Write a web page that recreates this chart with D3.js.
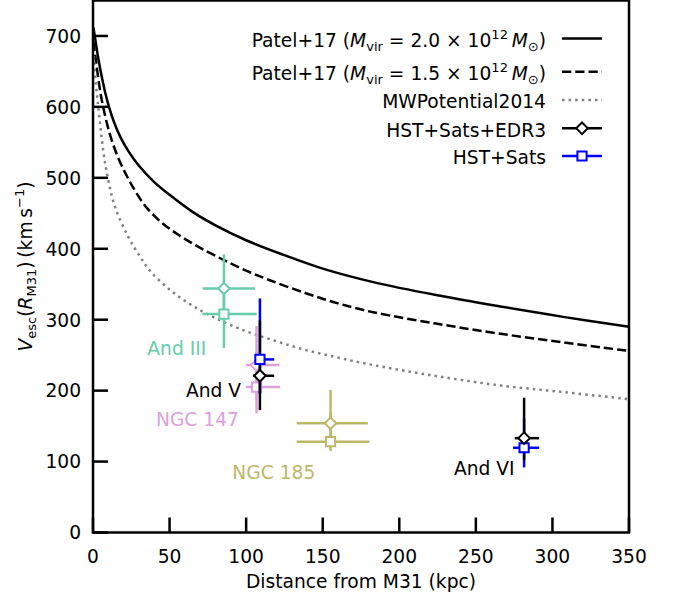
<!DOCTYPE html>
<html>
<head>
<meta charset="utf-8">
<script src="https://cdn.jsdelivr.net/npm/d3@7"></script>
<style>
  html, body { margin: 0; padding: 0; background: #fff; }
  svg { display: block; font-family: "DejaVu Sans", sans-serif; }
</style>
</head>
<body>
<svg id="chart" width="677" height="594"></svg>
<script>
// Escape-velocity profiles, [distance kpc, v_esc km/s]
const patelHigh = [[0.3,712],[1,702],[2,688],[3.5,668],[5.5,645],[8,620],[10.6,599],[14,577],[18,557],[23,538],[30,517],[40,494],[50,476],[65,452],[80,433],[100,412],[125,391],[150,372],[183,353],[226,334],[265,319],[307,304],[350,290]];
const patelLow = [[0.3,692],[1,680],[2,664],[4,632],[6.7,599],[11.1,561],[16.5,528],[22,503],[27.4,482],[35,458],[45.9,435],[57,418],[67.7,404],[80,390],[96,373],[115,356],[139.5,337],[160,323],[183,310.5],[224,294.5],[263.5,281],[307,268],[350,256]];
const mwPot = [[0.5,672],[2,630],[3.5,599],[6.7,538],[9.6,501],[14.4,459],[23,417],[30.7,389],[37.2,369],[50.3,342],[63.3,322],[76.4,306],[96,287],[117.7,271],[139.5,257],[161.2,246],[183,236],[220,222],[263.5,208],[307,198],[350,188]];

// Satellites: distance with range, v_esc with range
const edr3 = [
  {name: "And III", d: 85.5,  dLo: 71.6,  dHi: 105.7, v: 344,   vLo: 298,   vHi: 392},
  {name: "NGC 147", d: 106.8, dLo: 100.0, dHi: 121.8, v: 236,   vLo: 186,   vHi: 291},
  {name: "And V",   d: 109,   dLo: 104.6, dHi: 118.3, v: 221,   vLo: 172.5, vHi: 299},
  {name: "NGC 185", d: 155.1, dLo: 133,   dHi: 179.5, v: 154,   vLo: 125,   vHi: 201},
  {name: "And VI",  d: 281.5, dLo: 275.4, dHi: 291.3, v: 133,   vLo: 102,   vHi: 190}
];
const sats = [
  {name: "And III", d: 85.5,  dLo: 71.4,  dHi: 106.9, v: 308,   vLo: 260,   vHi: 352},
  {name: "NGC 147", d: 106.8, dLo: 100.0, dHi: 122.2, v: 205,   vLo: 168,   vHi: 255},
  {name: "And V",   d: 109,   dLo: 105.7, dHi: 118.3, v: 244,   vLo: 195,   vHi: 330},
  {name: "NGC 185", d: 155.1, dLo: 133,   dHi: 180.5, v: 128,   vLo: 115,   vHi: 170},
  {name: "And VI",  d: 281.5, dLo: 274.3, dHi: 291.3, v: 119.5, vLo: 91.8,  vHi: 160}
];

// Galaxy name labels, anchored at data coordinates (left, baseline)
const galaxyLabels = [
  {name: "And III", d: 35.5,  v: 250},
  {name: "And V",   d: 60.7,  v: 191.3},
  {name: "NGC 147", d: 41.1,  v: 150.4},
  {name: "NGC 185", d: 91,    v: 75.4},
  {name: "And VI",  d: 235.7, v: 81}
];

const xTicks = [0, 50, 100, 150, 200, 250, 300, 350];
const yTicks = [0, 100, 200, 300, 400, 500, 600, 700];

// Colours for the coloured galaxies; And V / And VI use the legend colours
const galaxyColor = {"And III": "#66cdaa", "NGC 147": "#dda0dd", "NGC 185": "#bdb76b"};
const EDR3_COLOR = "#000000", SATS_COLOR = "#0000ff";

const FONT = 18.67;
const svg = d3.select("#chart");
const margin = {left: 93, top: 0.5, right: 48, bottom: 61.5};
const W = 677 - margin.left - margin.right;
const H = 594 - margin.top - margin.bottom;

const x = d3.scaleLinear().domain([0, 350]).range([0, W]);
const y = d3.scaleLinear().domain([0, 750]).range([H, 0]);

const g = svg.append("g").attr("transform", `translate(${margin.left},${margin.top})`);

g.append("clipPath").attr("id", "plotclip")
  .append("rect").attr("x", 0).attr("y", 0).attr("width", W).attr("height", H);

// Curves
const line = d3.line().x(d => x(d[0])).y(d => y(d[1])).curve(d3.curveCatmullRom.alpha(0.5));
const curves = g.append("g").attr("clip-path", "url(#plotclip)");
curves.append("path").attr("d", line(patelHigh)).attr("fill", "none")
  .attr("stroke", "#000").attr("stroke-width", 2.5);
curves.append("path").attr("d", line(patelLow)).attr("fill", "none")
  .attr("stroke", "#000").attr("stroke-width", 2.5).attr("stroke-dasharray", "9.25,4");
curves.append("path").attr("d", line(mwPot)).attr("fill", "none")
  .attr("stroke", "#808080").attr("stroke-width", 2.5).attr("stroke-dasharray", "2.5,4.1");

// Error bars and markers
const ERR_W = 2.5;
function drawBars(sel, rows, colorOf) {
  rows.forEach(r => {
    const c = colorOf(r);
    sel.append("line").attr("x1", x(r.dLo)).attr("x2", x(r.dHi))
      .attr("y1", y(r.v)).attr("y2", y(r.v)).attr("stroke", c).attr("stroke-width", ERR_W);
    sel.append("line").attr("x1", x(r.d)).attr("x2", x(r.d))
      .attr("y1", y(r.vLo)).attr("y2", y(r.vHi)).attr("stroke", c).attr("stroke-width", ERR_W);
  });
}
const diamond = (cx, cy, s) => `M${cx},${cy - s}L${cx + s},${cy}L${cx},${cy + s}L${cx - s},${cy}Z`;
const square = (cx, cy, s) => `M${cx - s},${cy - s}H${cx + s}V${cy + s}H${cx - s}Z`;
function drawMarkers(sel, rows, colorOf, shape) {
  rows.forEach(r => {
    const cx = x(r.d), cy = y(r.v);
    sel.append("path")
      .attr("d", shape === "D" ? diamond(cx, cy, 5.8) : square(cx, cy, 4.6))
      .attr("fill", "#fff").attr("stroke", colorOf(r)).attr("stroke-width", 2);
  });
}

const pts = g.append("g");
const colored = r => galaxyColor[r.name] !== undefined;
const edrCol = r => galaxyColor[r.name] || EDR3_COLOR;
const satCol = r => galaxyColor[r.name] || SATS_COLOR;

// coloured galaxies first
["And III", "NGC 147", "NGC 185"].forEach(n => {
  const e = edr3.filter(r => r.name === n), s = sats.filter(r => r.name === n);
  drawBars(pts, e, edrCol);
  drawBars(pts, s, satCol);
  drawMarkers(pts, e, edrCol, "D");
  drawMarkers(pts, s, satCol, "s");
});
// then the And V / And VI measurements
const eBW = edr3.filter(r => !colored(r)), sBW = sats.filter(r => !colored(r));
drawBars(pts, sBW, satCol);
drawBars(pts, eBW, edrCol);
drawMarkers(pts, sBW, satCol, "s");
drawMarkers(pts, eBW, edrCol, "D");

// Galaxy labels
g.append("g").selectAll("text").data(galaxyLabels).join("text")
  .attr("x", d => x(d.d)).attr("y", d => y(d.v))
  .attr("font-size", FONT)
  .attr("fill", d => galaxyColor[d.name] || "#000")
  .text(d => d.name);

// Axes: frame, inward ticks on left and bottom
const TICK = 15;
g.append("g").selectAll("line").data(xTicks).join("line")
  .attr("x1", d => x(d)).attr("x2", d => x(d)).attr("y1", H).attr("y2", H - TICK)
  .attr("stroke", "#000").attr("stroke-width", 2.5);
g.append("g").selectAll("line").data(yTicks).join("line")
  .attr("x1", 0).attr("x2", TICK).attr("y1", d => y(d)).attr("y2", d => y(d))
  .attr("stroke", "#000").attr("stroke-width", 2.5);
g.append("rect").attr("x", 0).attr("y", 0).attr("width", W).attr("height", H)
  .attr("fill", "none").attr("stroke", "#000").attr("stroke-width", 2.5);

g.append("g").selectAll("text").data(xTicks).join("text")
  .attr("x", d => x(d)).attr("y", H + 30).attr("text-anchor", "middle")
  .attr("font-size", FONT).text(d => d);
g.append("g").selectAll("text").data(yTicks).join("text")
  .attr("x", -12).attr("y", d => y(d) + 6.8).attr("text-anchor", "end")
  .attr("font-size", FONT).text(d => d);

// Axis titles
svg.append("text").attr("x", margin.left + W / 2).attr("y", 588)
  .attr("text-anchor", "middle").attr("font-size", FONT).text("Distance from M31 (kpc)");

function rich(textSel, parts) {
  parts.forEach(p => {
    const t = textSel.append("tspan").text(p.t);
    if (p.i) t.attr("font-style", "italic");
    if (p.sub) t.attr("font-size", FONT * 0.7).attr("baseline-shift", -FONT * 0.2);
    if (p.sup) t.attr("font-size", FONT * 0.7).attr("baseline-shift", FONT * 0.42);
  });
}
const ylab = svg.append("text")
  .attr("transform", `translate(32,${margin.top + H / 2}) rotate(-90)`)
  .attr("text-anchor", "middle").attr("font-size", FONT);
rich(ylab, [
  {t: "V", i: true}, {t: "esc", sub: true}, {t: "("}, {t: "R", i: true}, {t: "M31", sub: true},
  {t: ")\u2009(km\u2009s"}, {t: "\u22121", sup: true}, {t: ")"}
]);

// Legend
const legendRows = [
  {parts: [{t: "Patel+17 ("}, {t: "M", i: true}, {t: "vir", sub: true}, {t: " = 2.0 × 10"}, {t: "12", sup: true}, {t: "\u2009"}, {t: "M", i: true}, {t: "\u2299", sub: true}, {t: ")"}], y: 38.5, kind: "solid"},
  {parts: [{t: "Patel+17 ("}, {t: "M", i: true}, {t: "vir", sub: true}, {t: " = 1.5 × 10"}, {t: "12", sup: true}, {t: "\u2009"}, {t: "M", i: true}, {t: "\u2299", sub: true}, {t: ")"}], y: 71.7, kind: "dashed"},
  {parts: [{t: "MWPotential2014"}], y: 100, kind: "dotted"},
  {parts: [{t: "HST+Sats+EDR3"}], y: 128.3, kind: "edr3"},
  {parts: [{t: "HST+Sats"}], y: 156, kind: "sats"}
];
const lg = svg.append("g");
const hx0 = 562, hx1 = 602;
legendRows.forEach(r => {
  const t = lg.append("text").attr("x", 546).attr("y", r.y + 8.2)
    .attr("text-anchor", "end").attr("font-size", FONT);
  rich(t, r.parts);
  const ln = lg.append("line").attr("x1", hx0).attr("x2", hx1).attr("y1", r.y).attr("y2", r.y)
    .attr("stroke-width", 2.5);
  const cx = (hx0 + hx1) / 2;
  if (r.kind === "solid") ln.attr("stroke", "#000");
  if (r.kind === "dashed") ln.attr("stroke", "#000").attr("stroke-dasharray", "9.25,4");
  if (r.kind === "dotted") ln.attr("stroke", "#808080").attr("stroke-dasharray", "2.5,4.1");
  if (r.kind === "edr3") {
    ln.attr("stroke", EDR3_COLOR);
    lg.append("path").attr("d", diamond(cx, r.y, 5.8)).attr("fill", "#fff")
      .attr("stroke", EDR3_COLOR).attr("stroke-width", 2);
  }
  if (r.kind === "sats") {
    ln.attr("stroke", SATS_COLOR);
    lg.append("path").attr("d", square(cx, r.y, 4.6)).attr("fill", "#fff")
      .attr("stroke", SATS_COLOR).attr("stroke-width", 2);
  }
});
</script>
</body>
</html>
